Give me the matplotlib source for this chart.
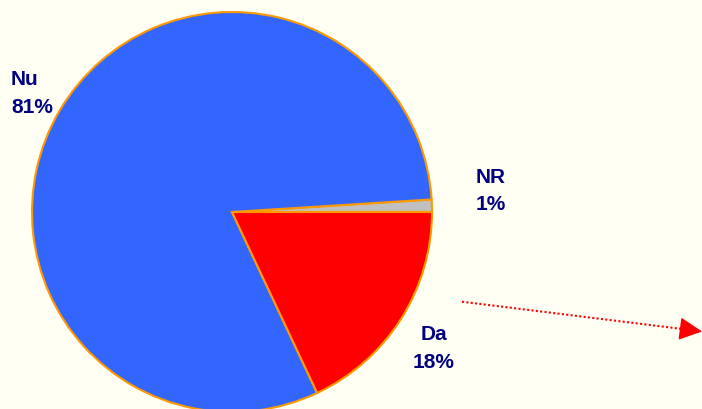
import matplotlib
matplotlib.use("Agg")
import matplotlib.pyplot as plt

labels = ["NR", "Nu", "Da"]
values = [1, 81, 18]
colors = ["#C0C0C0", "#3366FF", "#FF0000"]

bg = "#FFFFF4"
navy = "#000080"

fig = plt.figure(figsize=(7.02, 4.10), dpi=100, facecolor=bg)
ax = fig.add_axes([0, 0, 1, 1])
ax.set_facecolor(bg)

# pie centred at (232, 213) px, radius 200 px -> 1 data unit = 200 px
ax.pie(values, colors=colors, startangle=0, counterclock=True, radius=1,
       wedgeprops={"edgecolor": "#FF9900", "linewidth": 1.5})
ax.set_aspect("auto")
ax.set_xlim(-232 / 200, (702 - 232) / 200)
ax.set_ylim(-197 / 200, 213 / 200)
ax.axis("off")

def px(x, y):
    return (x - 232) / 200, (213 - y) / 200

# labels: (x, baseline of name, baseline of percent, alignment)
pos = {"Nu": (11, 85, 113, "left"),
       "NR": (491, 183, 210, "center"),
       "Da": (434, 340, 368, "center")}
font = dict(color=navy, fontsize=15, fontweight="bold",
            family=["Liberation Sans", "DejaVu Sans"])
for lab, v in zip(labels, values):
    x, y1, y2, ha = pos[lab]
    ax.text(*px(x, y1), lab, ha=ha, va="baseline", **font)
    ax.text(*px(x, y2), f"{v}%", ha=ha, va="baseline", **font)

# dotted red arrow
x0, y0 = px(462, 302.7)
x1, y1 = px(688, 330.7)
x2, y2 = px(702, 332.5)
ax.plot([x0, x1], [y0, y1], color="red", lw=1.5, linestyle=(0, (1, 1.1)))
ax.annotate("", xy=(x2, y2), xytext=(x1 - 0.02, y1 + 0.0025),
            annotation_clip=False,
            arrowprops=dict(arrowstyle="-|>,head_length=0.8,head_width=0.4",
                            color="red", lw=1, mutation_scale=18,
                            shrinkA=0, shrinkB=0))

fig.savefig("out.png", dpi=100, facecolor=bg)
